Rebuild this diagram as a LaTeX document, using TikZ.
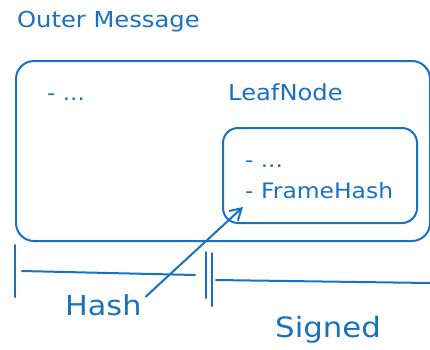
\documentclass[tikz,border=0pt]{standalone}
\usepackage{fontspec}
\setmainfont[FakeStretch=1.1]{DejaVu Sans}
\usetikzlibrary{positioning,arrows.meta,calc}
\definecolor{inkblue}{HTML}{1971C2}
\tikzset{
  frame/.style={rectangle,draw=inkblue,line width=2pt,rounded corners=18pt,inner sep=0pt},
  subframe/.style={frame,rounded corners=15pt},
  lbl/.style={text=inkblue,inner sep=0pt},
  rule/.style={draw=inkblue,line width=2pt,line cap=round},
  ptr/.style={-{Straight Barb[length=11pt,width=13pt]},rule},
}

\begin{document}
\begin{tikzpicture}[x=1pt,y=-1pt]
  \useasboundingbox (0,0) rectangle (430,349);
  % boxes
  \node[frame,minimum width=414pt,minimum height=180pt,anchor=north west] (outer) at (15,60) {};
  \node[subframe,minimum width=194pt,minimum height=95pt,anchor=north west] (leaf) at (222,127) {};
  % labels
  \node[lbl,anchor=base west,font=\fontsize{22}{26}\selectfont] (title) at (17,27) {Outer Message};
  \node[lbl,anchor=base west,font=\fontsize{21}{24}\selectfont] (etc) at (47,100) {- ...};
  \node[lbl,anchor=base west,font=\fontsize{22}{24}\selectfont] (leafname) at (228,100) {LeafNode};
  \node[lbl,anchor=base west,font=\fontsize{21}{24}\selectfont] (leafetc) at (245,167) {- ...};
  \node[lbl,anchor=base west,font=\fontsize{21.3}{24}\selectfont] (fhash) at (245,198) {- FrameHash};
  \node[lbl,anchor=base west,font=\fontsize{27.5}{32}\selectfont] (hash) at (65,315) {Hash};
  \node[lbl,anchor=base west,font=\fontsize{28}{32}\selectfont] (signed) at (275,337) {Signed};
  % span markers
  \coordinate (hL) at (15,245);
  \coordinate (hR) at (195,275);
  \coordinate (sA) at (206,252);
  \coordinate (sB) at (212,253);
  \coordinate (sR) at (430,283);
  \draw[rule] (hL) -- (15,297);
  \draw[rule] (22,271) -- (hR);
  \draw[rule] (sA) -- (206,298);
  \draw[rule] (sB) -- (212,306);
  \draw[rule] (216,280) -- (sR);
  % hash points at the frame hash
  \coordinate (tip) at (243,207);
  \draw[ptr] (hash.east) ++(4,-8) -- (tip);
\end{tikzpicture}
\end{document}
